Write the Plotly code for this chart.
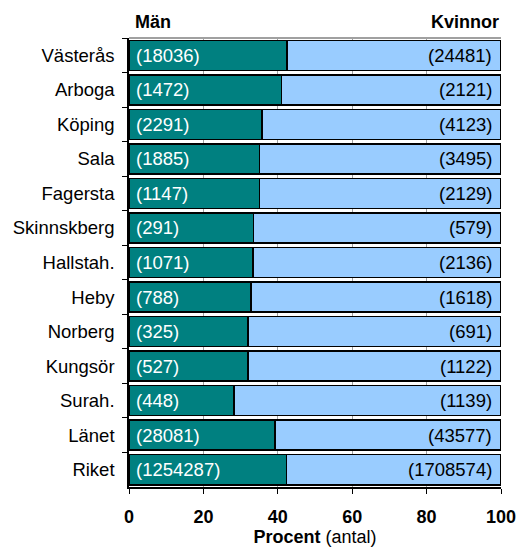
import plotly.graph_objects as go

categories = ["Västerås", "Arboga", "Köping", "Sala", "Fagersta", "Skinnskberg",
              "Hallstah.", "Heby", "Norberg", "Kungsör", "Surah.", "Länet", "Riket"]
men = [18036, 1472, 2291, 1885, 1147, 291, 1071, 788, 325, 527, 448, 28081, 1254287]
women = [24481, 2121, 4123, 3495, 2129, 579, 2136, 1618, 691, 1122, 1139, 43577, 1708574]
x_ticks = [0, 20, 40, 60, 80, 100]

men_pct = [m / (m + w) * 100 for m, w in zip(men, women)]
women_pct = [100 - p for p in men_pct]

font_family = "Liberation Sans, Arial, sans-serif"

fig = go.Figure()
fig.add_trace(go.Bar(
    y=categories, x=men_pct, orientation="h", name="Män",
    marker=dict(color="#008080", line=dict(color="black", width=1.5)),
    hoverinfo="skip",
))
fig.add_trace(go.Bar(
    y=categories, x=women_pct, orientation="h", name="Kvinnor",
    marker=dict(color="#99CCFF", line=dict(color="black", width=1.5)),
    hoverinfo="skip",
))

for cat, m, w in zip(categories, men, women):
    fig.add_annotation(x=0, y=cat, text=f"({m})", xanchor="left", yanchor="middle",
                       xshift=5, showarrow=False,
                       font=dict(color="white", size=18.5, family=font_family))
    fig.add_annotation(x=100, y=cat, text=f"({w})", xanchor="right", yanchor="middle",
                       xshift=-7, showarrow=False,
                       font=dict(color="black", size=18.5, family=font_family))

fig.update_layout(
    barmode="stack", bargap=0.13,
    width=517, height=547,
    margin=dict(l=129, r=16, t=38, b=60),
    plot_bgcolor="white", paper_bgcolor="white",
    showlegend=False,
    font=dict(family=font_family, size=18, color="black"),
)
fig.update_xaxes(
    range=[0, 100], tickvals=x_ticks, ticktext=[str(t) for t in x_ticks],
    tickfont=dict(size=18, family=font_family, weight="bold"),
    showgrid=True, gridcolor="#a0a0a0", gridwidth=1,
    showline=True, linecolor="black", linewidth=1.5,
    ticks="outside", ticklen=5, tickcolor="black", ticklabelstandoff=8,
    zeroline=False, automargin=False,
    title=dict(text="<b>Procent</b> (antal)", font=dict(size=18), standoff=14),
)
fig.update_yaxes(
    autorange="reversed", categoryorder="array", categoryarray=categories,
    tickson="boundaries", ticks="outside", ticklen=5, tickcolor="black",
    showline=True, linecolor="black", linewidth=1.5, ticklabelstandoff=9,
    tickfont=dict(size=18.5, family=font_family),
    showgrid=False, automargin=False,
)
fig.add_shape(type="line", xref="paper", yref="paper", x0=0, x1=1, y0=1, y1=1,
              line=dict(color="#a0a0a0", width=2))
fig.add_annotation(text="<b>Män</b>", xref="paper", yref="paper", x=0.01, y=1,
                   xanchor="left", yanchor="bottom", showarrow=False,
                   font=dict(size=18), yshift=4)
fig.add_annotation(text="<b>Kvinnor</b>", xref="paper", yref="paper", x=1, y=1,
                   xanchor="right", yanchor="bottom", showarrow=False,
                   font=dict(size=18), yshift=4)

fig.write_html(
    "out.html",
    config={"displayModeBar": False},
    post_script="document.body.style.margin='0';document.body.style.overflow='hidden';",
)
